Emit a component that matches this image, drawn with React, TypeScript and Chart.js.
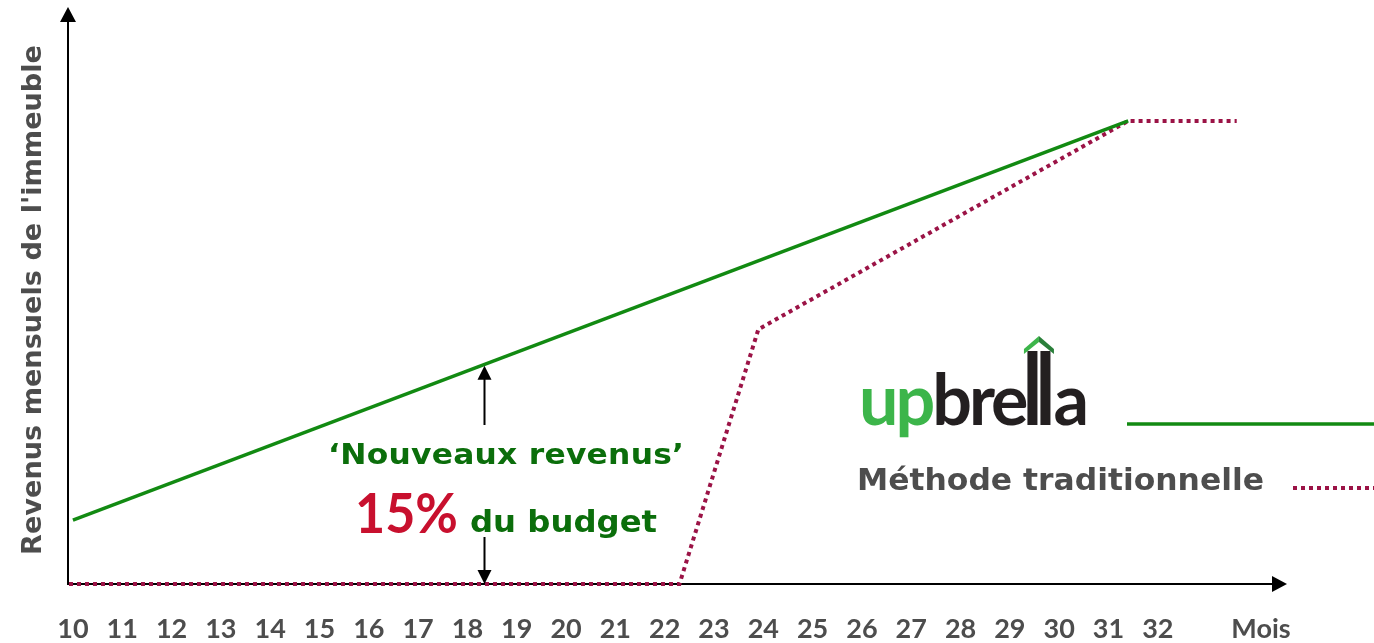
import React, { useEffect, useRef } from 'react';
import { Chart, registerables } from 'chart.js';

Chart.register(...registerables);

// ---------- data ----------
const monthTicks = [10, 11, 12, 13, 14, 15, 16, 17, 18, 19, 20, 21, 22, 23, 24, 25, 26, 27, 28, 29, 30, 31, 32];
const upbrellaMonths = [10, 31.4];
const upbrellaRevenue = [13.8, 100];
const traditionalMonths = [9.92, 22.3, 23.9, 31.4, 33.6];
const traditionalRevenue = [0, 0, 55, 100, 100];
const annotationMonth = 18.33;
const xMin = 9.9;
const xMax = 34.62;
const yMax = 124.6;

const xAxisUnit = 'Mois';
const yAxisTitle = "Revenus mensuels de l'immeuble";
const annotationLine1 = '\u2018Nouveaux revenus\u2019';
const annotationPercent = '15%';
const annotationLine2 = 'du budget';
const legendTraditional = 'Méthode traditionnelle';

// ---------- styles ----------
const GREEN = '#128a12';
const TEXT_GREEN = '#0b6e0b';
const MAROON = '#9b1346';
const CRIMSON = '#c8102e';
const GRAY = '#4d4d4d';
const FONT = 'Lato, "DejaVu Sans", sans-serif';
const WIDE = '"DejaVu Sans", Lato, sans-serif';
const TICK_SIZE = 27;
const TICK_PAD = 29;
const X_AXIS_HEIGHT = 59;

// draw text so that it spans exactly `width` px (mild stretch + letter spacing)
function drawFitted(
  ctx: CanvasRenderingContext2D,
  text: string,
  x: number,
  y: number,
  width: number,
  font: string,
  color: string
) {
  ctx.save();
  ctx.font = font;
  (ctx as any).letterSpacing = '0px';
  const natural = ctx.measureText(text).width;
  const n = Array.from(text).length;
  let sx = width / natural;
  let ls = 0;
  if (sx > 1.08) {
    sx = 1.08;
    ls = n > 1 ? (width / sx - natural) / (n - 1) : 0;
  }
  (ctx as any).letterSpacing = ls + 'px';
  ctx.fillStyle = color;
  ctx.textAlign = 'left';
  ctx.textBaseline = 'alphabetic';
  ctx.translate(x, y);
  ctx.scale(sx, 1);
  ctx.fillText(text, 0, 0);
  ctx.restore();
}

function poly(ctx: CanvasRenderingContext2D, pts: number[][], color: string) {
  ctx.beginPath();
  ctx.moveTo(pts[0][0], pts[0][1]);
  for (let i = 1; i < pts.length; i++) ctx.lineTo(pts[i][0], pts[i][1]);
  ctx.closePath();
  ctx.fillStyle = color;
  ctx.fill();
}

function greenAt(m: number) {
  const t = (m - upbrellaMonths[0]) / (upbrellaMonths[1] - upbrellaMonths[0]);
  return upbrellaRevenue[0] + t * (upbrellaRevenue[1] - upbrellaRevenue[0]);
}

const decorPlugin = {
  id: 'decor',
  beforeDatasetsDraw(chart: any) {
    const { ctx, chartArea } = chart;
    const { left, right, top, bottom } = chartArea;
    ctx.save();
    ctx.strokeStyle = '#000';
    ctx.lineWidth = 2;
    ctx.beginPath();
    ctx.moveTo(left, bottom + 1);
    ctx.lineTo(left, top + 12);
    ctx.moveTo(left - 1, bottom);
    ctx.lineTo(right - 12, bottom);
    ctx.stroke();
    poly(ctx, [[left, top], [left - 8, top + 15], [left + 8, top + 15]], '#000');
    poly(ctx, [[right, bottom], [right - 15, bottom - 8], [right - 15, bottom + 8]], '#000');
    ctx.restore();
  },
  afterDraw(chart: any) {
    const { ctx, chartArea } = chart;
    const xs = chart.scales.x;
    const ys = chart.scales.y;
    ctx.save();

    // annotation arrows
    const ax = Math.round(xs.getPixelForValue(annotationMonth)) + 0.5;
    const aTop = ys.getPixelForValue(greenAt(annotationMonth));
    const aBot = ys.getPixelForValue(0);
    ctx.strokeStyle = '#000';
    ctx.lineWidth = 2;
    ctx.beginPath();
    ctx.moveTo(ax, 425);
    ctx.lineTo(ax, aTop + 12);
    ctx.moveTo(ax, 537);
    ctx.lineTo(ax, aBot - 12);
    ctx.stroke();
    poly(ctx, [[ax, aTop + 1], [ax - 7, aTop + 15], [ax + 7, aTop + 15]], '#000');
    poly(ctx, [[ax, aBot], [ax - 7, aBot - 14], [ax + 7, aBot - 14]], '#000');

    // annotation text
    drawFitted(ctx, annotationLine1, 328, 464, 356, `bold 29px ${WIDE}`, TEXT_GREEN);
    drawFitted(ctx, annotationPercent, 355, 533, 103, `bold 56px ${FONT}`, CRIMSON);
    drawFitted(ctx, annotationLine2, 470, 532, 187, `bold 31px ${WIDE}`, TEXT_GREEN);

    // y axis title
    ctx.save();
    ctx.translate(41, 555);
    ctx.rotate(-Math.PI / 2);
    drawFitted(ctx, yAxisTitle, 0, 0, 510, `bold 27px ${WIDE}`, GRAY);
    ctx.restore();

    // x unit label
    ctx.font = `bold ${TICK_SIZE}px ${FONT}`;
    ctx.fillStyle = GRAY;
    ctx.textAlign = 'center';
    ctx.textBaseline = 'middle';
    ctx.fillText(xAxisUnit, chartArea.right - 26, xs.top + TICK_PAD + (TICK_SIZE * 1.2) / 2);

    // logo "upbrella"
    const base = 425;
    ctx.font = `bold 70px ${FONT}`;
    (ctx as any).letterSpacing = '-3px';
    ctx.textAlign = 'left';
    ctx.textBaseline = 'alphabetic';
    let lx = 859;
    ctx.fillStyle = '#3cb54a';
    ctx.fillText('up', lx, base);
    lx += ctx.measureText('up').width;
    ctx.fillStyle = '#231f20';
    ctx.fillText('bre', lx, base);
    lx += ctx.measureText('bre').width + 2;
    const l1 = lx;
    ctx.fillRect(l1, 351, 10, base - 351);
    ctx.fillRect(l1 + 13, 351, 10, base - 351);
    const cx = l1 + 11.5;
    poly(ctx, [[cx, 336], [cx - 15, 349], [cx - 15, 354], [cx, 342]], '#3cb54a');
    poly(ctx, [[cx, 336], [cx + 15, 349], [cx + 15, 354], [cx, 342]], '#2a7f3a');
    ctx.fillStyle = '#231f20';
    ctx.fillText('a', l1 + 26, base);
    (ctx as any).letterSpacing = '0px';

    // legend lines
    ctx.strokeStyle = GREEN;
    ctx.lineWidth = 3.5;
    ctx.setLineDash([]);
    ctx.beginPath();
    ctx.moveTo(1127, 424);
    ctx.lineTo(1374, 424);
    ctx.stroke();

    drawFitted(ctx, legendTraditional, 857, 490, 407, `bold 30px ${WIDE}`, GRAY);

    ctx.strokeStyle = MAROON;
    ctx.lineWidth = 4;
    ctx.setLineDash([4, 4]);
    ctx.beginPath();
    ctx.moveTo(1293, 488);
    ctx.lineTo(1374, 488);
    ctx.stroke();
    ctx.restore();
  },
};

export default function App() {
  const canvasRef = useRef<HTMLCanvasElement | null>(null);

  useEffect(() => {
    document.body.style.margin = '0';
    const canvas = canvasRef.current;
    if (!canvas) return;
    const chart = new Chart(canvas, {
      type: 'line',
      data: {
        datasets: [
          {
            label: 'upbrella',
            data: upbrellaMonths.map((m, i) => ({ x: m, y: upbrellaRevenue[i] })),
            borderColor: GREEN,
            borderWidth: 3.5,
            pointRadius: 0,
            tension: 0,
            fill: false,
            clip: false,
          },
          {
            label: legendTraditional,
            data: traditionalMonths.map((m, i) => ({ x: m, y: traditionalRevenue[i] })),
            borderColor: MAROON,
            borderWidth: 4,
            borderDash: [4, 4],
            borderCapStyle: 'butt',
            pointRadius: 0,
            tension: 0,
            fill: false,
            clip: false,
          },
        ],
      },
      options: {
        animation: false,
        responsive: false,
        devicePixelRatio: 1,
        layout: { padding: { left: 68, top: 7, right: 87, bottom: 0 } },
        plugins: {
          legend: { display: false },
          tooltip: { enabled: false },
          title: { display: false },
        },
        events: [],
        scales: {
          x: {
            type: 'linear',
            min: xMin,
            max: xMax,
            grid: { display: false, drawTicks: false },
            border: { display: false },
            afterBuildTicks: (scale: any) => {
              scale.ticks = monthTicks.map((v) => ({ value: v }));
            },
            afterFit: (scale: any) => {
              scale.height = X_AXIS_HEIGHT;
            },
            ticks: {
              autoSkip: false,
              maxRotation: 0,
              padding: TICK_PAD,
              color: GRAY,
              font: { family: FONT, size: TICK_SIZE, weight: 'bold' },
              callback: (v: any) => String(v),
            },
          },
          y: {
            type: 'linear',
            display: false,
            min: 0,
            max: yMax,
          },
        },
      },
      plugins: [decorPlugin],
    } as any);
    return () => chart.destroy();
  }, []);

  return (
    <div style={{ width: 1374, height: 643, position: 'relative', background: '#fff' }}>
      <canvas ref={canvasRef} width={1374} height={643} style={{ display: 'block' }} />
    </div>
  );
}
